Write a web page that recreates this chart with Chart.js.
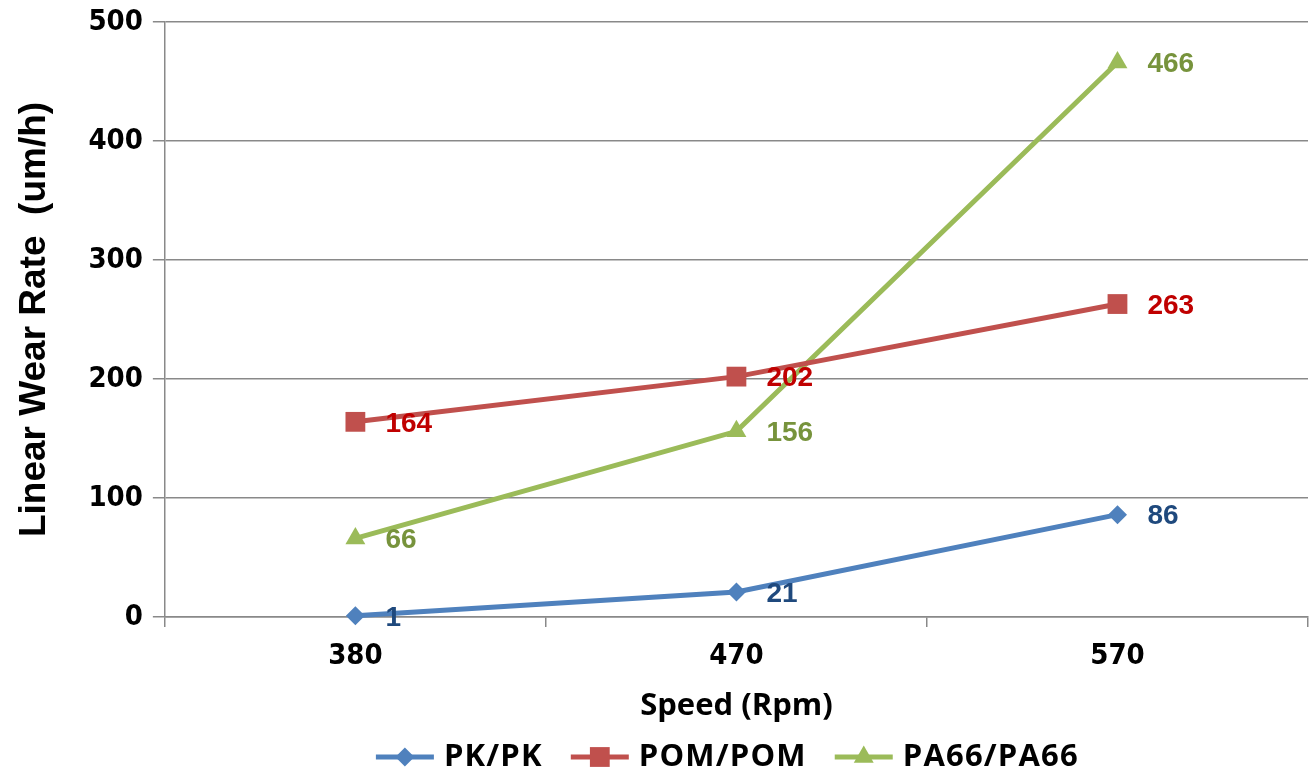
<!DOCTYPE html>
<html>
<head>
<meta charset="utf-8">
<script src="https://cdn.jsdelivr.net/npm/chart.js@4.4.1/dist/chart.umd.min.js"></script>
<style>
  html, body { margin: 0; padding: 0; background: #fff; overflow: hidden; }
  #wrap { width: 1313px; height: 771px; position: relative; }
  canvas { display: block; }
</style>
</head>
<body>
<div id="wrap"><canvas id="grafico"></canvas></div>
<script>
// dados
const velocidades = ['380', '470', '570'];
const pkpk = [1, 21, 86];
const pompom = [164, 202, 263];
const pa66 = [66, 156, 466];
const ticksY = [0, 100, 200, 300, 400, 500];

const fonteNarrow = "'DejaVu Sans Condensed', 'Liberation Sans', sans-serif";
const fonteNormal = "'Liberation Sans', Arial, sans-serif";
const fonteOpen = "'Open Sans', 'Noto Sans', sans-serif";

// marcador (losango, quadrado, triângulo) centrado em x,y
function desenhaMarcador(g, estilo, x, y, r) {
    g.beginPath();
    if (estilo === 'rectRot') {
        g.moveTo(x, y - r); g.lineTo(x + r, y); g.lineTo(x, y + r); g.lineTo(x - r, y);
    } else if (estilo === 'rect') {
        const s = r * Math.SQRT1_2;
        g.rect(x - s, y - s, 2 * s, 2 * s);
    } else {
        const d = r * Math.sqrt(3) / 2;
        g.moveTo(x, y - r); g.lineTo(x + d, y + r / 2); g.lineTo(x - d, y + r / 2);
    }
    g.closePath();
    g.fill();
}

// rótulos de valor ao lado de cada ponto
const rotulos = {
    id: 'rotulos',
    afterDatasetsDraw(chart) {
        const ctx = chart.ctx;
        ctx.save();
        ctx.font = 'bold 28px ' + fonteNormal;
        ctx.textBaseline = 'middle';
        ctx.textAlign = 'left';
        chart.data.datasets.forEach((ds, i) => {
            const meta = chart.getDatasetMeta(i);
            ctx.fillStyle = ds.corRotulo;
            meta.data.forEach((pt, j) => {
                ctx.fillText(ds.data[j], pt.x + 30, pt.y + 2);
            });
        });
        ctx.restore();
    }
};

// legenda desenhada embaixo, linha + marcador + nome
const legenda = {
    id: 'legenda',
    afterDraw(chart) {
        const ctx = chart.ctx;
        const area = chart.chartArea;
        const larguraIcone = 58, espaco = 10, entre = 28;
        ctx.save();
        ctx.font = 'bold 31px ' + fonteOpen;
        ctx.letterSpacing = '1.2px';
        ctx.textBaseline = 'middle';
        ctx.textAlign = 'left';
        const dss = chart.data.datasets;
        let total = 0;
        dss.forEach((ds, i) => {
            total += larguraIcone + espaco + ctx.measureText(ds.label).width;
            if (i < dss.length - 1) total += entre;
        });
        let x = (area.left + area.right) / 2 - 9 - total / 2;
        const y = chart.height - 14;
        dss.forEach(ds => {
            ctx.strokeStyle = ds.borderColor;
            ctx.fillStyle = ds.borderColor;
            ctx.lineWidth = 5;
            ctx.beginPath(); ctx.moveTo(x, y); ctx.lineTo(x + larguraIcone, y); ctx.stroke();
            desenhaMarcador(ctx, ds.pointStyle, x + larguraIcone / 2, y, ds.pointRadius);
            x += larguraIcone + espaco;
            ctx.fillStyle = '#000';
            ctx.fillText(ds.label, x, y);
            x += ctx.measureText(ds.label).width + entre;
        });
        ctx.restore();
    }
};

const series = [
    { label: 'PK/PK', data: pkpk, cor: '#4F81BD', corRotulo: '#1F497D', estilo: 'rectRot', raio: 9.5 },
    { label: 'POM/POM', data: pompom, cor: '#C0504D', corRotulo: '#C00000', estilo: 'rect', raio: 14 },
    { label: 'PA66/PA66', data: pa66, cor: '#9BBB59', corRotulo: '#77933C', estilo: 'triangle', raio: 11.5 }
];

new Chart(document.getElementById('grafico'), {
    type: 'line',
    data: {
        labels: velocidades,
        datasets: series.map(s => ({
            label: s.label,
            data: s.data,
            borderColor: s.cor,
            backgroundColor: s.cor,
            borderWidth: 5,
            pointStyle: s.estilo,
            pointRadius: s.raio,
            pointBorderWidth: 0,
            corRotulo: s.corRotulo,
            tension: 0,
            clip: false
        }))
    },
    options: {
        responsive: true,
        maintainAspectRatio: false,
        animation: false,
        layout: { autoPadding: false, padding: { left: 13, right: 5, top: 22, bottom: 46 } },
        plugins: {
            tooltip: { enabled: false },
            legend: { display: false }
        },
        scales: {
            x: {
                offset: true,
                afterFit(scale) { scale.paddingLeft = 0; scale.paddingRight = 0; },
                grid: { offset: true, drawOnChartArea: false, tickLength: 10, color: '#898989', lineWidth: 1.5 },
                border: { color: '#898989', width: 1.5 },
                ticks: { color: '#000', font: { size: 29, weight: 'bold', family: fonteNarrow }, padding: 12 },
                title: { display: true, text: 'Speed (Rpm)', color: '#000', font: { size: 31, weight: 'bold', family: fonteOpen }, padding: { top: 2, bottom: 0 } }
            },
            y: {
                min: 0,
                max: 500,
                afterBuildTicks(axis) { axis.ticks = ticksY.map(v => ({ value: v })); },
                afterFit(scale) { scale.paddingTop = 0; scale.paddingBottom = 0; },
                grid: { color: '#898989', lineWidth: 1.5, tickLength: 12 },
                border: { color: '#898989', width: 1.5 },
                ticks: { color: '#000', font: { size: 29, weight: 'bold', family: fonteNarrow }, padding: 10 },
                title: { display: true, text: 'Linear Wear Rate  (um/h)', color: '#000', font: { size: 37, weight: 'bold', family: fonteNormal }, padding: { top: 0, bottom: 21 } }
            }
        }
    },
    plugins: [rotulos, legenda]
});
</script>
</body>
</html>
